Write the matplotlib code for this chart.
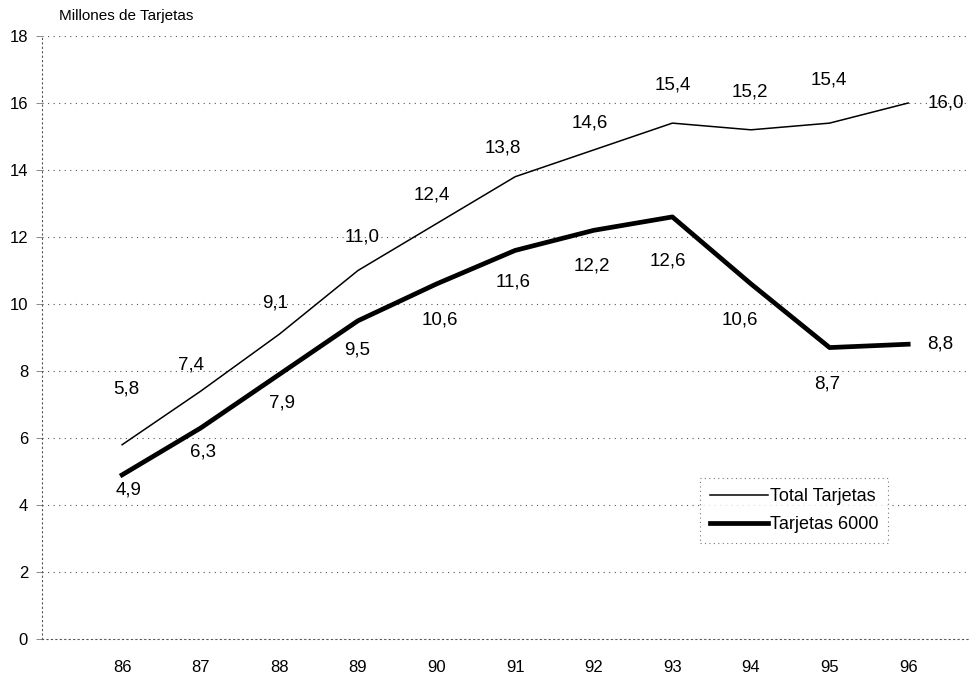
import matplotlib
matplotlib.use("Agg")
import matplotlib.pyplot as plt

plt.rcParams['font.family'] = ['Liberation Sans', 'DejaVu Sans']

# -------------------- datos --------------------
years = [86, 87, 88, 89, 90, 91, 92, 93, 94, 95, 96]
total_tarjetas = [5.8, 7.4, 9.1, 11.0, 12.4, 13.8, 14.6, 15.4, 15.2, 15.4, 16.0]
tarjetas_6000 = [4.9, 6.3, 7.9, 9.5, 10.6, 11.6, 12.2, 12.6, 10.6, 8.7, 8.8]

# desplazamiento de las etiquetas, en pixeles (x a la derecha, y hacia arriba)
total_off = [(4, 56), (-10, 26), (-4, 31), (4, 34), (-5, 29), (-12, 29),
             (-4, 27), (0, 38), (-1, 38), (-1, 43), (19, 0)]
s6000_off = [(6, -15), (2, -24), (3, -29), (-1, -29), (3, -36), (-2, -32),
             (-2, -36), (-4, -44), (-11, -36), (-2, -36), (19, 0)]

PX = 0.72  # pixeles -> puntos a 100 dpi

fig = plt.figure(figsize=(9.78, 6.77), dpi=100)
ax = fig.add_axes([0.0429, 0.0561, 0.9468, 0.8907])

ax.plot(years, total_tarjetas, color='black', lw=1.1, label='Total Tarjetas', zorder=3)
ax.plot(years, tarjetas_6000, color='black', lw=3.4, label='Tarjetas 6000', zorder=3)


def etiquetas(valores, offsets):
    for i, (x, y) in enumerate(zip(years, valores)):
        dx, dy = offsets[i]
        ultimo = i == len(years) - 1
        ax.annotate(f"{y:.1f}".replace('.', ','), (x, y),
                    xytext=(dx * PX, dy * PX), textcoords='offset points',
                    ha='left' if ultimo else 'center', va='center', fontsize=13.5)


etiquetas(total_tarjetas, total_off)
etiquetas(tarjetas_6000, s6000_off)

ax.set_xlim(84.98, 96.76)
ax.set_ylim(0, 18)
ax.set_yticks(range(0, 19, 2))
ax.set_xticks(years)
ax.set_xticklabels([str(y) for y in years])
ax.tick_params(axis='x', length=0, pad=15, labelsize=12)
ax.tick_params(axis='y', length=4, width=0.6, color='#777777', pad=6, labelsize=12)

ax.grid(axis='y', linestyle=(0, (1, 4)), color='#555555', lw=0.8)
for side in ['top', 'right']:
    ax.spines[side].set_visible(False)
for side in ['left', 'bottom']:
    ax.spines[side].set_linestyle((0, (1, 3)))
    ax.spines[side].set_color('#555555')
    ax.spines[side].set_linewidth(0.8)

ax.text(0.018, 1.033, "Millones de Tarjetas", transform=ax.transAxes,
        fontsize=11, ha='left', va='center')

leg = ax.legend(loc='upper left', bbox_to_anchor=(0.711, 0.267), borderaxespad=0,
                frameon=True, fancybox=False, fontsize=13, handlelength=3.2,
                handletextpad=0.1, borderpad=0.55, labelspacing=0.62)
frame = leg.get_frame()
frame.set_linestyle((0, (1, 3)))
frame.set_edgecolor('#555555')
frame.set_linewidth(0.8)

fig.savefig("out.png", dpi=100)
